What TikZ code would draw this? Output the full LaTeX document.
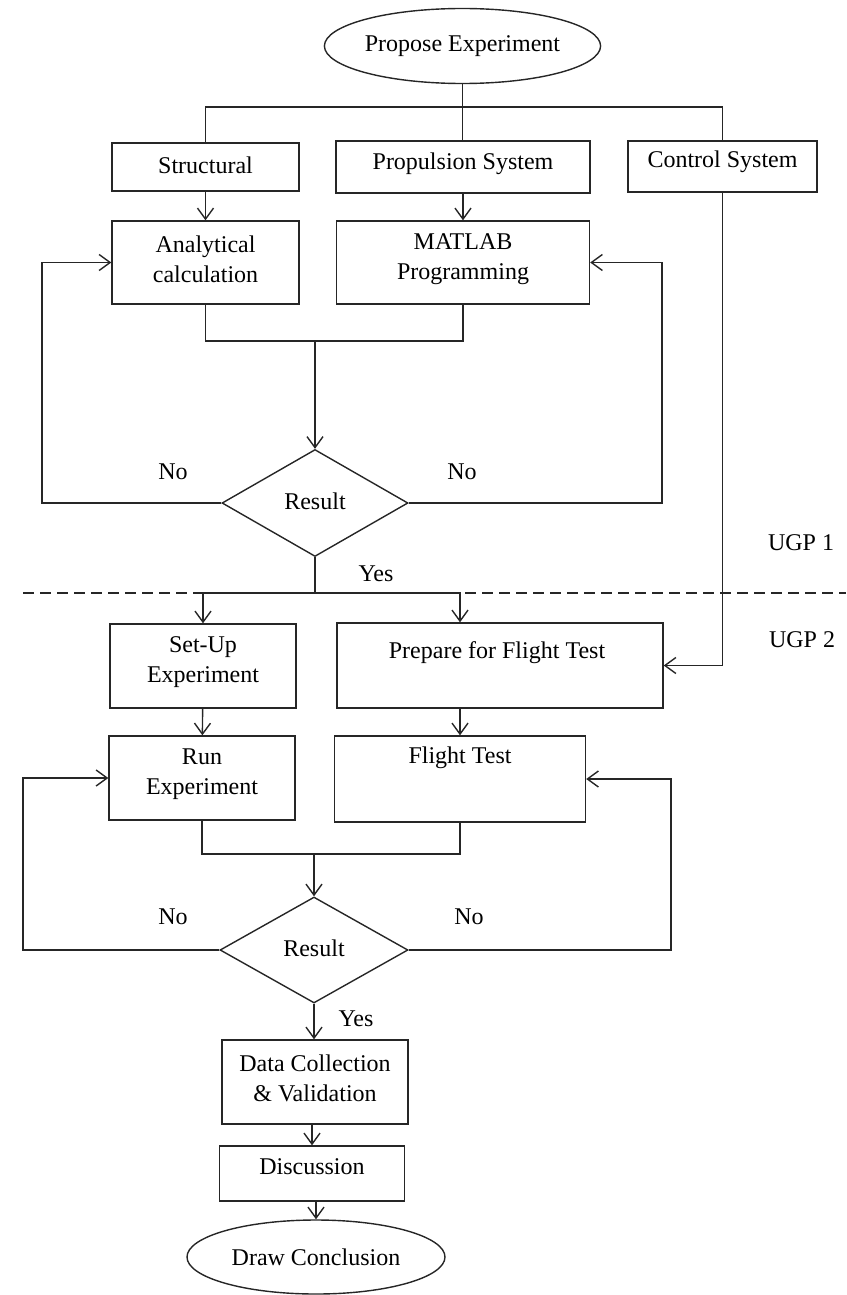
\documentclass[tikz,border=0pt]{standalone}
\usepackage{fontspec}
\setmainfont{Liberation Serif}
\usetikzlibrary{shapes.geometric,arrows.meta}
\begin{document}
\begin{tikzpicture}[
  x=1pt, y=-1pt,
  line width=1.4pt, draw=black!85,
  font=\fontsize{24}{30}\selectfont,
  stepbox/.style={draw, rectangle, inner sep=0pt},
  terminal/.style={draw, ellipse, inner sep=0pt},
  decision/.style={draw, diamond, inner sep=0pt, aspect=1.75},
  txt/.style={inner sep=0pt, align=center},
  arr/.style={-{Straight Barb[length=11pt,width=16pt]}},
]
\useasboundingbox (0,0) rectangle (846,1295);

% ---------- UGP 1 ----------
\node[terminal, minimum width=256, minimum height=75] (start) at (462.5,46) {Propose Experiment};

\node[stepbox, minimum width=187, minimum height=48] (struct) at (205.5,167) {};
\node[txt] (struct-t) at (205.5,165) {Structural};
\node[stepbox, minimum width=254, minimum height=52] (prop) at (463,167) {};
\node[txt] (prop-t) at (463,164) {Propulsion System};
\node[stepbox, minimum width=189, minimum height=51] (ctrl) at (722.5,166.5) {};
\node[txt] (ctrl-t) at (722.5,162) {Control System};

\node[stepbox, minimum width=187, minimum height=83] (anal) at (205.5,262.5) {};
\node[txt] (anal-t) at (205.5,259) {Analytical\\calculation};
\node[stepbox, minimum width=253, minimum height=83] (matlab) at (463,262.5) {};
\node[txt] (matlab-t) at (463,259) {MATLAB\\Programming};

\node[decision, minimum width=186, minimum height=107] (res1) at (315,503) {};
\node[txt] (res1-t) at (315,501) {Result};

\node[txt] (no1l) at (173,472) {No};
\node[txt] (no1r) at (462,472) {No};
\node[txt] (yes1) at (376,574) {Yes};

% ---------- phase divider ----------
\coordinate (divl) at (23,593);
\coordinate (divr) at (846,593);
\draw[dash pattern=on 11pt off 6pt] (divl) -- (divr);
\node[txt] (ugp1) at (801,543) {UGP 1};
\node[txt] (ugp2) at (802,640) {UGP 2};

% ---------- UGP 2 ----------
\node[stepbox, minimum width=186, minimum height=84] (setup) at (203,666) {};
\node[txt] (setup-t) at (203,662) {Set-Up\\Experiment};
\node[stepbox, minimum width=326, minimum height=85] (prep) at (500,665.5) {};
\node[txt] (prep-t) at (497,653) {Prepare for Flight Test};

\node[stepbox, minimum width=186, minimum height=84] (run) at (202,778) {};
\node[txt] (run-t) at (202,774) {Run\\Experiment};
\node[stepbox, minimum width=251, minimum height=86] (flight) at (460,779) {};
\node[txt] (flight-t) at (460,758) {Flight Test};

\node[decision, minimum width=188, minimum height=106] (res2) at (314,950) {};
\node[txt] (res2-t) at (314,948) {Result};

\node[txt] (no2l) at (173,917) {No};
\node[txt] (no2r) at (469,917) {No};
\node[txt] (yes2) at (356,1019) {Yes};

\node[stepbox, minimum width=186, minimum height=84] (data) at (315,1082) {};
\node[txt] (data-t) at (315,1078) {Data Collection\\\& Validation};
\node[stepbox, minimum width=185, minimum height=55] (disc) at (312,1173.5) {};
\node[txt] (disc-t) at (312,1167) {Discussion};
\node[terminal, minimum width=258, minimum height=74] (finish) at (316,1257) {Draw Conclusion};

% ---------- connectors ----------
% branching from the proposal
\coordinate (j1) at (462.5,107);
\draw (start.south) -- (j1);
\draw (struct.north) |- (j1) -| (ctrl.north);
\draw (j1) -- (prop.north -| j1);

\draw[arr] (struct) -- (anal);
\draw[arr] (prop) -- (matlab);

% first evaluation
\coordinate (m1) at (315,341);
\draw (anal.south) |- (m1) -| (matlab.south);
\draw[arr] (m1) -- (res1.north);

\coordinate (l1) at (42,503);
\coordinate (r1) at (662,503);
\draw[arr] (res1.west) -- (l1) |- (anal.west);
\draw[arr] (res1.east) -- (r1) |- (matlab.east);

% passing on to the second phase
\coordinate (b1) at (315,593);
\draw (res1.south) -- (b1);
\draw[arr] (b1) -| (setup.north);
\draw[arr] (b1) -| (prep.north -| flight.north);
\draw[arr] (ctrl.south) |- (prep.east);

\draw[arr] (setup) -- (run);
\draw[arr] (prep.south -| flight.north) -- (flight.north);

% second evaluation
\coordinate (m2) at (314,854);
\draw (run.south) |- (m2) -| (flight.south);
\draw[arr] (m2) -- (res2.north);

\coordinate (l2) at (23,950);
\coordinate (r2) at (671,950);
\draw[arr] (res2.west) -- (l2) |- (run.west);
\draw[arr] (res2.east) -- (r2) |- (flight.east);

% wrapping up
\draw[arr] (res2.south) -- (data.north -| res2.south);
\draw[arr] (data.south -| disc.north) -- (disc.north);
\draw[arr] (disc.south -| finish.north) -- (finish.north);
\end{tikzpicture}
\end{document}
